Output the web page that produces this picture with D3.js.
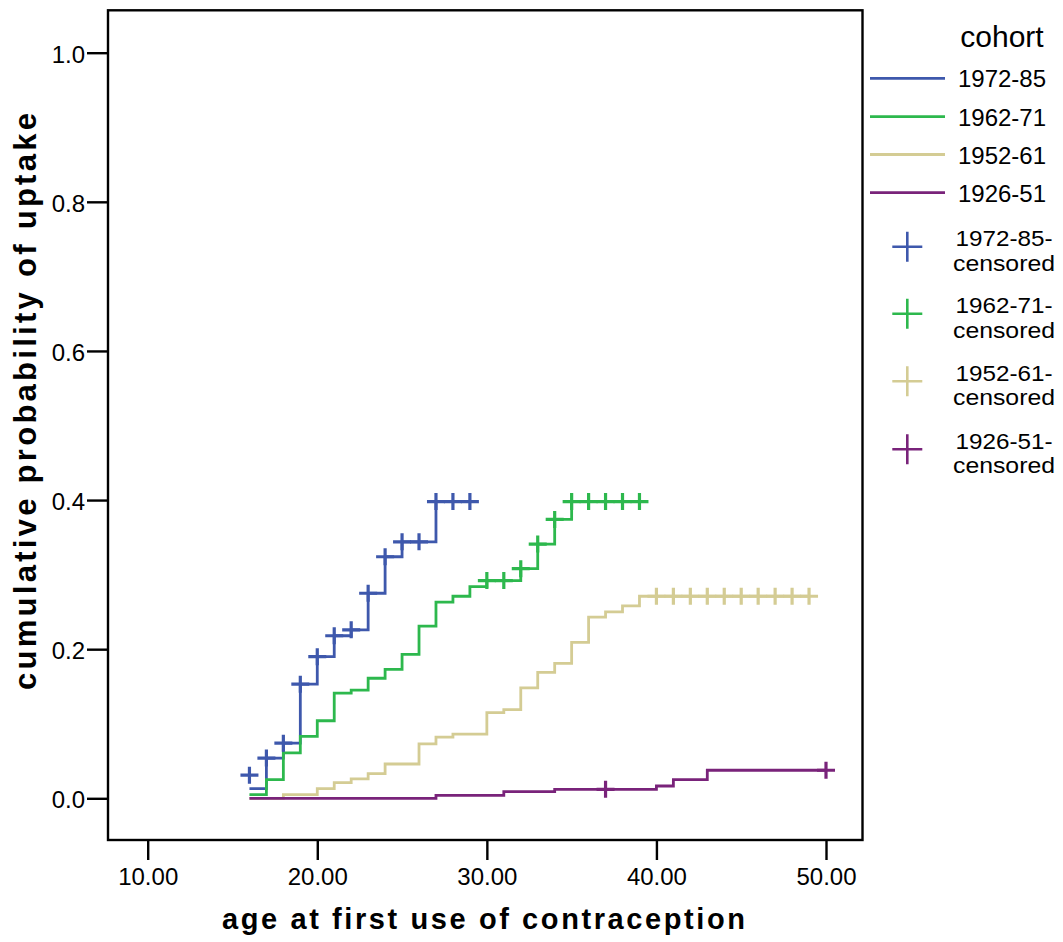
<!DOCTYPE html>
<html>
<head>
<meta charset="utf-8">
<script src="https://cdn.jsdelivr.net/npm/d3@7"></script>
<style>
body { margin: 0; background: #fff; }
text { font-family: "Liberation Sans", Arial, sans-serif; fill: #000; }
</style>
</head>
<body>
<div id="chart"></div>
<script>
// cohorts and colours
var cohorts=["1972-85","1962-71","1952-61","1926-51"];
var colors=["#3e58ac","#2db84d","#d4cc94","#79237a"];

// step curves (age where the step starts, cumulative probability)
var ages7285=[16,17,18,19,20,21,22,23,24,25,27,29];
var prob7285=[0.013,0.054,0.074,0.153,0.190,0.218,0.226,0.275,0.324,0.344,0.398,0.398];
var ages6271=[16,17,18,19,20,21,22,23,24,25,26,27,28,29,30,32,33,34,35,39];
var prob6271=[0.005,0.025,0.061,0.083,0.104,0.141,0.145,0.161,0.173,0.193,0.231,0.263,0.271,0.284,0.292,0.308,0.341,0.374,0.398,0.398];
var ages5261=[16,18,20,21,22,23,24,26,27,28,30,31,32,33,34,35,36,37,38,39,49];
var prob5261=[0,0.005,0.013,0.021,0.026,0.033,0.046,0.073,0.082,0.086,0.115,0.119,0.148,0.169,0.181,0.209,0.243,0.250,0.258,0.271,0.271];
var ages2651=[16,27,31,34,40,41,43,50];
var prob2651=[0,0.004,0.009,0.012,0.0165,0.025,0.0376,0.0376];

// censored marks
var censAges7285=[16,17,18,19,20,21,22,23,24,25,26,27,28,29];
var censProb7285=[0.031,0.054,0.074,0.153,0.190,0.218,0.226,0.275,0.324,0.344,0.344,0.398,0.398,0.398];
var censAges6271=[30,31,32,33,34,35,36,37,38,39];
var censProb6271=[0.292,0.292,0.308,0.341,0.374,0.398,0.398,0.398,0.398,0.398];
var censAges5261=[40,41,42,43,44,45,46,47,48,49];
var censProb5261=[0.271,0.271,0.271,0.271,0.271,0.271,0.271,0.271,0.271,0.271];
var censAges2651=[37,50];
var censProb2651=[0.012,0.0376];

// ticks
var xTicks=[10,20,30,40,50];
var yTicks=[0,0.2,0.4,0.6,0.8,1.0];

var svgWidth=1063, svgHeight=942;
var frame={left:108, right:862.5, top:10.3, bottom:840};

var svg=d3.select("#chart").append("svg")
    .attr("width",svgWidth)
    .attr("height",svgHeight);

var x=d3.scaleLinear().domain([10,50]).range([147.7,826]);
var y=d3.scaleLinear().domain([0,1]).range([798.3,52.7]);

// frame
svg.append("rect")
    .attr("x",frame.left).attr("y",frame.top)
    .attr("width",frame.right-frame.left)
    .attr("height",frame.bottom-frame.top)
    .attr("fill","none").attr("stroke","#000").attr("stroke-width",2.4);

// axes
var xAxis=svg.append("g")
    .attr("transform",`translate(0,${frame.bottom})`)
    .call(d3.axisBottom(x).tickValues(xTicks).tickFormat(d3.format(".2f")).tickSize(20).tickPadding(8).tickSizeOuter(0));
var yAxis=svg.append("g")
    .attr("transform",`translate(${frame.left},0)`)
    .call(d3.axisLeft(y).tickValues(yTicks).tickFormat(d3.format(".1f")).tickSize(21).tickPadding(2).tickSizeOuter(0));
[xAxis,yAxis].forEach(function(a) {
    a.select(".domain").remove();
    a.selectAll("line").attr("stroke","#000").attr("stroke-width",2.4);
    a.selectAll("text").attr("font-size","24px").attr("font-family",null).attr("fill","#000");
});
yAxis.selectAll("text").attr("dy","0.4em");

// axis titles
svg.append("text")
    .attr("x",483.5).attr("y",929)
    .attr("text-anchor","middle")
    .attr("font-size","29px").attr("font-weight","bold")
    .attr("textLength",523).attr("lengthAdjust","spacing")
    .text("age at first use of contraception");
svg.append("text")
    .attr("transform","translate(36,401.5) rotate(-90)")
    .attr("text-anchor","middle")
    .attr("font-size","31px").attr("font-weight","bold")
    .attr("textLength",577).attr("lengthAdjust","spacing")
    .text("cumulative probability of uptake");

// curves
var stepAges=[ages7285,ages6271,ages5261,ages2651];
var stepProbs=[prob7285,prob6271,prob5261,prob2651];
var censAges=[censAges7285,censAges6271,censAges5261,censAges2651];
var censProbs=[censProb7285,censProb6271,censProb5261,censProb2651];

var line=d3.line()
    .x(d=>x(d[0]))
    .y(d=>y(d[1]))
    .curve(d3.curveStepAfter);

var plot=svg.append("g");
cohorts.forEach(function(c,i) {
    var pts=stepAges[i].map((a,j)=>[a,stepProbs[i][j]]);
    plot.append("path")
        .attr("d",line(pts))
        .attr("fill","none")
        .attr("stroke",colors[i])
        .attr("stroke-width",2.8);
});

// censored + marks
cohorts.forEach(function(c,i) {
    var pts=censAges[i].map((a,j)=>[a,censProbs[i][j]]);
    plot.append("g").selectAll("path")
        .data(pts)
        .enter()
        .append("path")
        .attr("d",d=>`M${x(d[0])-9},${y(d[1])}h18M${x(d[0])},${y(d[1])-8.5}v17`)
        .attr("stroke",colors[i])
        .attr("stroke-width",3.2)
        .attr("fill","none");
});

// legend
var legend=svg.append("g");
legend.append("text")
    .attr("x",1002).attr("y",46.7)
    .attr("text-anchor","middle")
    .attr("font-size","30px")
    .text("cohort");

var lineY=[78.3,116.7,154.5,192.7];
cohorts.forEach(function(c,i) {
    legend.append("line")
        .attr("x1",870).attr("x2",945)
        .attr("y1",lineY[i]).attr("y2",lineY[i])
        .attr("stroke",colors[i]).attr("stroke-width",2.8);
    legend.append("text")
        .attr("x",1002).attr("y",lineY[i]+9)
        .attr("text-anchor","middle")
        .attr("font-size","24px")
        .text(c);
});

var crossY=[246.7,313.8,381.3,449.3];
cohorts.forEach(function(c,i) {
    var cy=crossY[i];
    legend.append("path")
        .attr("d",`M892.3,${cy}h30M907.3,${cy-15}v30`)
        .attr("stroke",colors[i]).attr("stroke-width",2.6).attr("fill","none");
    legend.append("text")
        .attr("x",1004).attr("y",cy-0.5)
        .attr("text-anchor","middle")
        .attr("font-size","22px")
        .attr("textLength",97).attr("lengthAdjust","spacingAndGlyphs")
        .text(c+"-");
    legend.append("text")
        .attr("x",1004).attr("y",cy+24)
        .attr("text-anchor","middle")
        .attr("font-size","22px")
        .attr("textLength",102).attr("lengthAdjust","spacingAndGlyphs")
        .text("censored");
});
</script>
</body>
</html>
